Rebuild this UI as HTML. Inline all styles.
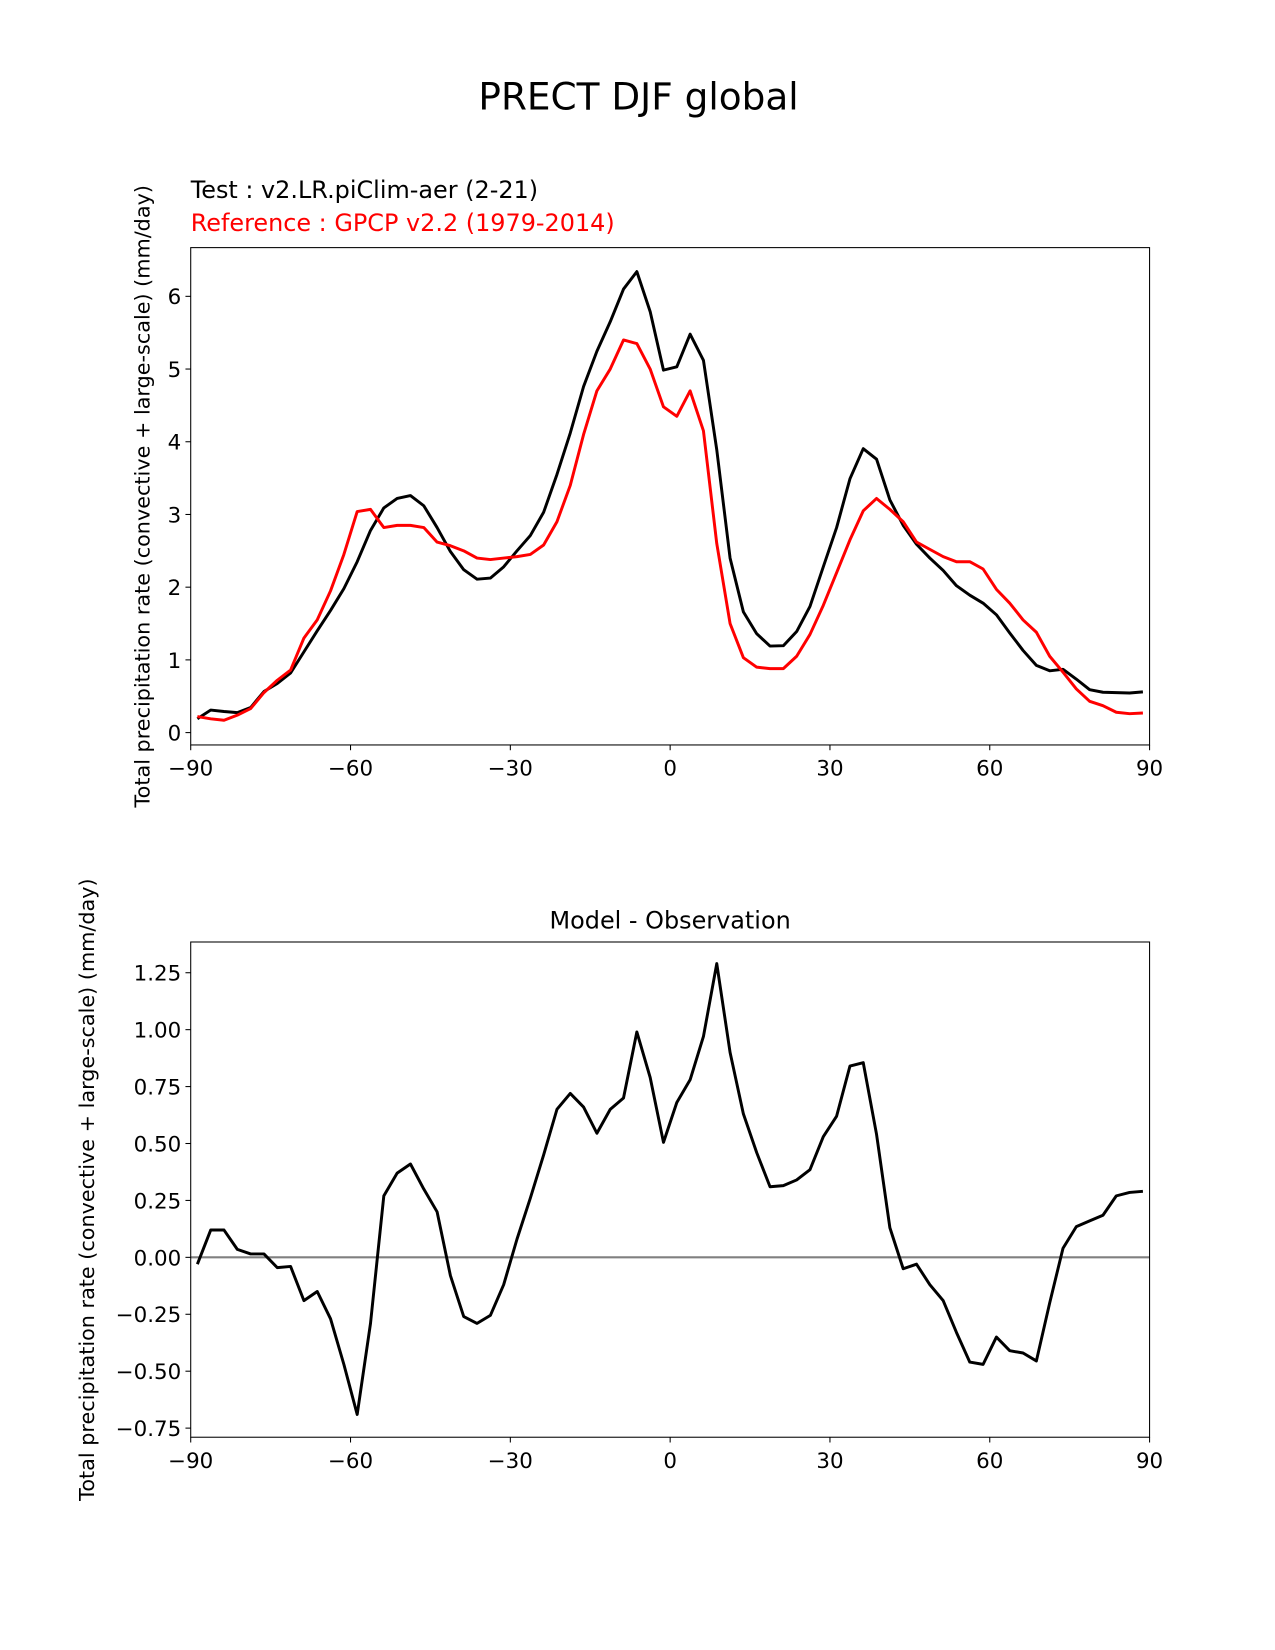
<!DOCTYPE html>
<html><head><meta charset="utf-8"><style>
html,body{margin:0;padding:0;background:#fff;}
svg{display:block;font-family:"DejaVu Sans","Liberation Sans",sans-serif;}
</style></head><body>
<svg id="fig" width="1275" height="1650" viewBox="0 0 1210.04 1565.93" xmlns="http://www.w3.org/2000/svg">
<rect width="1210.04" height="1565.93" fill="#fff"/>
<text x="606" y="104" font-size="35.5" text-anchor="middle">PRECT DJF global</text>
<text x="181" y="188" font-size="22.7">Test : v2.LR.piClim-aer (2-21)</text>
<text x="181" y="219" font-size="22.7" fill="#ff0000">Reference : GPCP v2.2 (1979-2014)</text>
<text x="636" y="881" font-size="22.7" text-anchor="middle">Model - Observation</text>
<text transform="translate(142,471) rotate(-90)" font-size="19.7" text-anchor="middle">Total precipitation rate (convective + large-scale) (mm/day)</text>
<text transform="translate(89,1129) rotate(-90)" font-size="19.7" text-anchor="middle">Total precipitation rate (convective + large-scale) (mm/day)</text>
<g id="top"></g>
<g id="bot"></g>
</svg>
<script>
const lats = [];
for (let i = 0; i < 72; i++) lats.push(-88.75 + 2.5 * i);
const refVals = [0.22,0.19,0.17,0.24,0.33,0.55,0.72,0.86,1.3,1.55,1.95,2.45,3.04,3.07,2.82,2.85,2.85,2.82,2.62,2.57,2.5,2.4,2.38,2.4,2.42,2.45,2.58,2.9,3.4,4.1,4.7,5.0,5.4,5.35,5.0,4.48,4.35,4.7,4.15,2.6,1.5,1.03,0.9,0.88,0.88,1.05,1.35,1.75,2.2,2.65,3.05,3.22,3.07,2.9,2.62,2.52,2.42,2.35,2.35,2.25,1.97,1.78,1.55,1.38,1.05,0.83,0.6,0.43,0.37,0.28,0.26,0.27];
const diffVals = [-0.03,0.12,0.12,0.035,0.015,0.015,-0.045,-0.04,-0.19,-0.15,-0.27,-0.47,-0.69,-0.29,0.27,0.37,0.41,0.3,0.2,-0.08,-0.26,-0.29,-0.255,-0.12,0.08,0.26,0.45,0.65,0.72,0.66,0.545,0.65,0.70,0.99,0.79,0.505,0.68,0.78,0.97,1.29,0.90,0.63,0.46,0.31,0.315,0.34,0.385,0.53,0.62,0.84,0.855,0.54,0.13,-0.05,-0.03,-0.12,-0.19,-0.33,-0.46,-0.47,-0.35,-0.41,-0.42,-0.455,-0.2,0.04,0.135,0.16,0.185,0.27,0.285,0.29];
const xTicks = [-90,-60,-30,0,30,60,90];
const topYTicks = [0,1,2,3,4,5,6];
const botYTicks = [-0.75,-0.5,-0.25,0,0.25,0.5,0.75,1.0,1.25];
const topYLabels = ["0","1","2","3","4","5","6"];
const botYLabels = ["\u22120.75","\u22120.50","\u22120.25","0.00","0.25","0.50","0.75","1.00","1.25"];
const NS = "http://www.w3.org/2000/svg";
function mk(parent, tag, attrs, txt){const e=document.createElementNS(NS,tag);for(const k in attrs)e.setAttribute(k,attrs[k]);if(txt!==undefined)e.textContent=txt;parent.appendChild(e);return e;}
function fmtX(v){return v<0?"\u2212"+Math.abs(v):String(v);}
function panel(g, box, yMin, yMax, yT, yL, key){
  const sx = v => box.l + (v + 90) / 180 * (box.r - box.l);
  const sy = v => box.b - (v - yMin) / (yMax - yMin) * (box.b - box.t);
  xTicks.forEach(t=>{
    const l = mk(g,'line',{x1:sx(t),x2:sx(t),y1:box.b,y2:box.b+5,stroke:'#000','stroke-width':1});
    
    
    const tx = mk(g,'text',{x:sx(t),y:box.b+29,'font-size':20.3,'text-anchor':'middle'},fmtX(t));
    
    
  });
  yT.forEach((t,i)=>{
    const l = mk(g,'line',{x1:box.l-5,x2:box.l,y1:sy(t),y2:sy(t),stroke:'#000','stroke-width':1});
    
    
    const tx = mk(g,'text',{x:box.l-9,y:sy(t)+7.5,'font-size':20.3,'text-anchor':'end'},yL[i]);
    
    
  });
  return {sx, sy};
}
const topBox = {l:181, r:1091, t:235, b:707};
const botBox = {l:181, r:1091, t:894, b:1364};
const topG = document.getElementById('top');
const botG = document.getElementById('bot');
const T = panel(topG, topBox, -0.17, 6.67, topYTicks, topYLabels, 'top');
const B = panel(botG, botBox, -0.79, 1.385, botYTicks, botYLabels, 'bottom');
function pts(s, arr){return arr.map((v,i)=>s.sx(lats[i]).toFixed(2)+','+s.sy(v).toFixed(2)).join(' ');}
const testVals = refVals.map((v,i)=>v+diffVals[i]);
const zl = mk(botG,'line',{x1:botBox.l,x2:botBox.r,y1:B.sy(0),y2:B.sy(0),stroke:'#808080','stroke-width':2});


const tl = mk(topG,'polyline',{points:pts(T,testVals),fill:'none',stroke:'#000','stroke-width':2.8,'stroke-linejoin':'round'});


const rl = mk(topG,'polyline',{points:pts(T,refVals),fill:'none',stroke:'#ff0000','stroke-width':2.8,'stroke-linejoin':'round'});


const dl = mk(botG,'polyline',{points:pts(B,diffVals),fill:'none',stroke:'#000','stroke-width':2.8,'stroke-linejoin':'round'});


[[topG,topBox,'top-frame'],[botG,botBox,'bottom-frame']].forEach(([g,b,n])=>{
  const r = mk(g,'rect',{x:b.l,y:b.t,width:b.r-b.l,height:b.b-b.t,fill:'none',stroke:'#000','stroke-width':1});
  
  
});
</script>
</body></html>
